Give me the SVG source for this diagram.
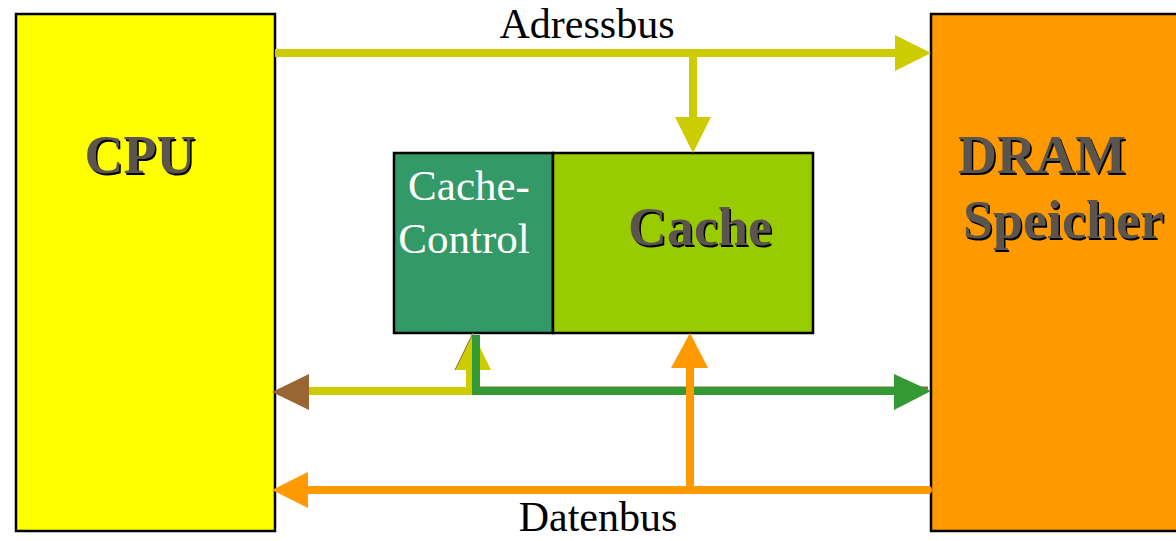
<svg xmlns="http://www.w3.org/2000/svg" width="1176" height="541" viewBox="0 0 1176 541">
<style>
.box{stroke:#000;stroke-width:2.5}
.lbl{font-family:"Liberation Serif",serif;font-size:42px;fill:#000}
.big{font-family:"Liberation Serif",serif;font-size:54px;font-weight:bold;fill:#5c554d}
.shadow{fill:#000}
.white{font-family:"Liberation Serif",serif;font-size:43px;fill:#fff}
.ln{fill:none;stroke-width:8}
</style>
<rect width="1176" height="541" fill="#fff"/>
<g id="cpu">
<rect class="box" x="16" y="14" width="259" height="517" fill="#ffff00"/>
<text class="big shadow" x="141.5" y="174.5" text-anchor="middle">CPU</text>
<text class="big" x="140" y="173" text-anchor="middle">CPU</text>
</g>
<g id="dram">
<rect class="box" x="931" y="14" width="250" height="517" fill="#ff9900"/>
<text class="big shadow" x="959.5" y="174.5">DRAM</text>
<text class="big" x="958" y="173">DRAM</text>
<text class="big shadow" x="964.5" y="239.5">Speicher</text>
<text class="big" x="963" y="238">Speicher</text>
</g>
<g id="cachecontrol">
<rect class="box" x="394" y="153" width="159" height="180" fill="#339966"/>
<text class="white" x="469" y="200" text-anchor="middle">Cache-</text>
<text class="white" x="464" y="253" text-anchor="middle">Control</text>
</g>
<g id="cache">
<rect class="box" x="553" y="153" width="260" height="180" fill="#99cc00"/>
<text class="big shadow" x="701.5" y="246.5" text-anchor="middle">Cache</text>
<text class="big" x="700" y="245" text-anchor="middle">Cache</text>
</g>
<g id="connectors">
<line class="ln" x1="275" y1="53" x2="897" y2="53" stroke="#cccc00"/>
<polygon points="895,35 931,53 895,71" fill="#cccc00"/>
<line class="ln" x1="693" y1="53" x2="693" y2="119" stroke="#cccc00"/>
<polygon points="675,117 711,117 693,153" fill="#cccc00"/>
<line class="ln" x1="305" y1="391" x2="474" y2="391" stroke="#cccc00"/>
<polygon points="309,374 272,392 309,410" fill="#996633"/>
<line class="ln" x1="470" y1="391" x2="470" y2="368" stroke="#cccc00"/>
<polygon points="455,370 491,370 473,333" fill="#cccc00"/>
<line x1="455" y1="370" x2="473" y2="333" stroke="#996633" stroke-width="1"/>
<line x1="480" y1="388" x2="928" y2="388" stroke="#996633" stroke-width="3"/>
<polyline class="ln" points="476,335 476,391 897,391" stroke="#339933" stroke-linejoin="miter"/>
<polygon points="894,374 931,391 894,410" fill="#339933"/>
<line class="ln" x1="305" y1="490" x2="928" y2="490" stroke="#ff9900" stroke-linecap="round"/>
<polygon points="308,472 272,490 308,508" fill="#ff9900"/>
<line class="ln" x1="690" y1="490" x2="690" y2="366" stroke="#ff9900"/>
<polygon points="671,368 708,368 690,333" fill="#ff9900"/>
</g>
<text class="lbl" x="587" y="38" text-anchor="middle">Adressbus</text>
<text class="lbl" x="598" y="531" text-anchor="middle">Datenbus</text>
</svg>
